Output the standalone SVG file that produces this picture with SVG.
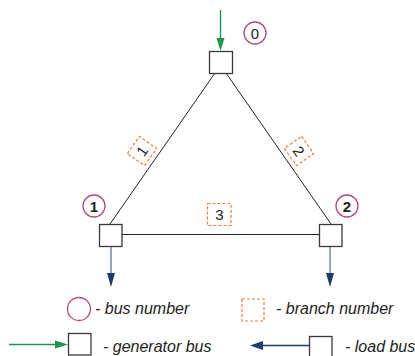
<svg xmlns="http://www.w3.org/2000/svg" width="415" height="356" viewBox="0 0 415 356">
<style>
.bus{fill:#fff;stroke:#3a3a3a;stroke-width:1.3}
.num{fill:none;stroke:#b34a7c;stroke-width:1.3}
.br{fill:#fff;stroke:#f0803c;stroke-width:1.2;stroke-dasharray:3 2}
.line{stroke:#222;stroke-width:1;fill:none}
.gen{stroke:#179a4b;stroke-width:1.4}
.load{stroke:#7890b0;stroke-width:1.6}
.ld{stroke:#1f3a6e;stroke-width:1.4}
.t{font-family:"Liberation Sans",Arial,sans-serif;fill:#222}
.leg{font-family:"Liberation Sans",Arial,sans-serif;font-style:italic;font-size:16px;fill:#222}
</style>
<g id="connectors">
<line class="line" x1="215" y1="73" x2="110" y2="224"/>
<line class="line" x1="226" y1="73" x2="331" y2="224"/>
<line class="line" x1="122" y1="234.5" x2="319" y2="234.5"/>
<line class="gen" x1="220.5" y1="10" x2="220.5" y2="40"/>
<polygon points="216.5,38 224.5,38 220.5,51" fill="#179a4b"/>
<line class="load" x1="111" y1="247" x2="111" y2="276"/>
<polygon points="107,273 115,273 111,287" fill="#1f3a6e"/>
<line class="load" x1="330" y1="247" x2="330" y2="276"/>
<polygon points="326,273 334,273 330,287" fill="#1f3a6e"/>
</g>
<g id="bus0">
<rect class="bus" x="209.5" y="51.5" width="23" height="22"/>
<circle class="num" cx="255" cy="33" r="11"/>
<text class="t" x="255" y="38.5" font-size="15" text-anchor="middle">0</text>
</g>
<g id="bus1">
<rect class="bus" x="99.5" y="224.5" width="22.5" height="22"/>
<circle class="num" cx="94" cy="206" r="11"/>
<text class="t" x="94" y="211.5" font-size="15" font-weight="bold" text-anchor="middle">1</text>
</g>
<g id="bus2">
<rect class="bus" x="319.5" y="224.5" width="22.5" height="22"/>
<circle class="num" cx="347" cy="206" r="11"/>
<text class="t" x="347" y="211.5" font-size="15" font-weight="bold" text-anchor="middle">2</text>
</g>
<g id="branch1" transform="translate(142,151) rotate(-55)">
<rect class="br" x="-10.5" y="-10.5" width="21" height="21"/>
<text class="t" x="0" y="5.5" font-size="15" text-anchor="middle">1</text>
</g>
<g id="branch2" transform="translate(299,151) rotate(55)">
<rect class="br" x="-10.5" y="-10.5" width="21" height="21"/>
<text class="t" x="0" y="5.5" font-size="15" text-anchor="middle">2</text>
</g>
<g id="branch3">
<rect class="br" x="207.5" y="203.5" width="23.5" height="22"/>
<text class="t" x="219.3" y="220" font-size="15" text-anchor="middle">3</text>
</g>
<g id="legend">
<circle class="num" cx="79" cy="309" r="11.5"/>
<text class="leg" x="95" y="314">- bus number</text>
<rect class="br" x="242" y="299" width="22" height="22"/>
<text class="leg" x="276" y="314">- branch number</text>
<line class="gen" x1="9" y1="344.5" x2="57" y2="344.5"/>
<polygon points="55,340.5 68,344.5 55,348.5" fill="#179a4b"/>
<rect class="bus" x="68.5" y="333.5" width="22.5" height="21.5"/>
<text class="leg" x="103" y="352">- generator bus</text>
<line class="ld" x1="261" y1="345.5" x2="309" y2="345.5"/>
<polygon points="263,341 250,345.5 263,350" fill="#1f3a6e"/>
<rect class="bus" x="309.5" y="336.5" width="22.5" height="22"/>
<text class="leg" x="345" y="352">- load bus</text>
</g>
</svg>
